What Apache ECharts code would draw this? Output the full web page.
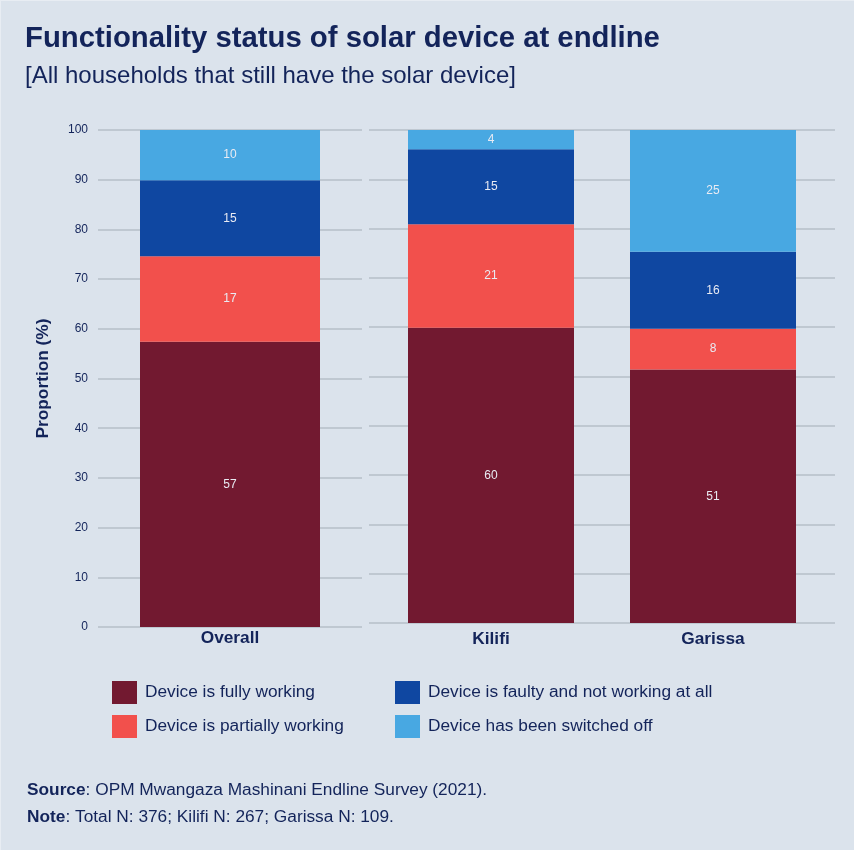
<!DOCTYPE html>
<html>
<head>
<meta charset="utf-8">
<script src="https://cdn.jsdelivr.net/npm/echarts@6/dist/echarts.min.js"></script>
<style>
  html, body { margin: 0; padding: 0; background: #dbe3ec; }
  #chart { width: 854px; height: 850px; }
</style>
</head>
<body>
<div id="chart"></div>
<script>
// Categories per panel
const overallCategories = ['Overall'];
const regionCategories = ['Kilifi', 'Garissa'];

// Share of households (%) per status, order: Overall, Kilifi, Garissa
const fullyWorking = [57.4, 59.9, 51.4];
const partiallyWorking = [17.2, 21.0, 8.3];
const faultyNotWorking = [15.3, 15.2, 15.6];
const switchedOff = [10.1, 3.9, 24.7];

const statusNames = [
  'Device is fully working',
  'Device is partially working',
  'Device is faulty and not working at all',
  'Device has been switched off'
];
const statusValues = [fullyWorking, partiallyWorking, faultyNotWorking, switchedOff];
const statusColors = ['#721930', '#f2504c', '#0f47a1', '#48a8e2'];

const yTicks = { min: 0, max: 100, interval: 10 };

const FONT = '"Liberation Sans", Arial, Helvetica, sans-serif';
const NAVY = '#13245a';
const GRID_LINE = '#b6bfc9';

const chart = echarts.init(document.getElementById('chart'), null, { renderer: 'canvas' });

const labelOpt = {
  show: true,
  position: 'inside',
  color: '#e9ebf3',
  fontSize: 12,
  fontFamily: FONT,
  formatter: p => Math.round(p.value)
};

const series = [];
statusNames.forEach((name, i) => {
  series.push({
    name: name,
    type: 'bar',
    stack: 'overall',
    xAxisIndex: 0,
    yAxisIndex: 0,
    barWidth: 180,
    itemStyle: { color: statusColors[i] },
    label: labelOpt,
    data: [statusValues[i][0]]
  });
  series.push({
    name: name,
    type: 'bar',
    stack: 'region',
    xAxisIndex: 2,
    yAxisIndex: 2,
    barWidth: 166,
    itemStyle: { color: statusColors[i] },
    label: labelOpt,
    data: statusValues[i].slice(1)
  });
});

const catLabel = {
  color: NAVY,
  fontSize: 17.3,
  fontWeight: 'bold',
  fontFamily: FONT
};

const legendBase = {
  orient: 'vertical',
  top: 681,
  padding: 0,
  itemWidth: 25, itemHeight: 23, itemGap: 11,
  icon: 'rect',
  selectedMode: false,
  textStyle: { color: NAVY, fontSize: 17.3, fontFamily: FONT, padding: [0, 0, 0, 3] }
};

const option = {
  backgroundColor: '#dbe3ec',
  animation: false,
  textStyle: { fontFamily: FONT },
  title: [
    {
      text: 'Functionality status of solar device at endline',
      left: 25, top: 24, padding: 0,
      textStyle: { color: NAVY, fontSize: 29.3, fontWeight: 'bold', fontFamily: FONT }
    },
    {
      text: '[All households that still have the solar device]',
      left: 25, top: 64, padding: 0,
      textStyle: { color: NAVY, fontSize: 24, fontWeight: 'normal', fontFamily: FONT }
    }
  ],
  legend: [
    Object.assign({ data: [statusNames[0], statusNames[1]], left: 112 }, legendBase),
    Object.assign({ data: [statusNames[2], statusNames[3]], left: 395 }, legendBase)
  ],
  grid: [
    { left: 98, top: 130, width: 264, height: 497 },
    { left: 369, top: 130, width: 466, height: 493 },
    { left: 380, top: 130, width: 444, height: 493 }
  ],
  xAxis: [
    {
      type: 'category', gridIndex: 0, data: overallCategories,
      axisLine: { show: false }, axisTick: { show: false },
      axisLabel: Object.assign({ margin: 3 }, catLabel)
    },
    {
      type: 'category', gridIndex: 1, data: regionCategories, show: false
    },
    {
      type: 'category', gridIndex: 2, data: regionCategories,
      axisLine: { show: false }, axisTick: { show: false },
      axisLabel: Object.assign({ margin: 8 }, catLabel)
    }
  ],
  yAxis: [
    {
      type: 'value', gridIndex: 0,
      min: yTicks.min, max: yTicks.max, interval: yTicks.interval,
      name: 'Proportion (%)',
      nameLocation: 'middle', nameRotate: 90, nameGap: 46,
      nameTextStyle: { color: NAVY, fontSize: 17.3, fontWeight: 'bold', fontFamily: FONT },
      axisLine: { show: false }, axisTick: { show: false },
      axisLabel: { color: NAVY, fontSize: 12, margin: 10, fontFamily: FONT },
      splitLine: { show: true, lineStyle: { color: GRID_LINE, width: 1.5 } }
    },
    {
      type: 'value', gridIndex: 1,
      min: yTicks.min, max: yTicks.max, interval: yTicks.interval,
      axisLine: { show: false }, axisTick: { show: false },
      axisLabel: { show: false },
      splitLine: { show: true, lineStyle: { color: GRID_LINE, width: 1.5 } }
    },
    {
      type: 'value', gridIndex: 2,
      min: yTicks.min, max: yTicks.max, interval: yTicks.interval,
      axisLine: { show: false }, axisTick: { show: false },
      axisLabel: { show: false },
      splitLine: { show: false }
    }
  ],
  graphic: [
    // thin light frame along the top and left edges
    { type: 'line', shape: { x1: 0, y1: 0.5, x2: 854, y2: 0.5 }, style: { stroke: '#e8edf3', lineWidth: 1 } },
    { type: 'line', shape: { x1: 0.5, y1: 0, x2: 0.5, y2: 850 }, style: { stroke: '#e8edf3', lineWidth: 1 } },
    {
      type: 'text', left: 27, top: 782,
      style: {
        text: '{b|Source}: OPM Mwangaza Mashinani Endline Survey (2021).',
        fill: NAVY, fontSize: 17.3, fontFamily: FONT,
        rich: { b: { fontWeight: 'bold', fontSize: 17.3, fill: NAVY, fontFamily: FONT } }
      }
    },
    {
      type: 'text', left: 27, top: 809,
      style: {
        text: '{b|Note}: Total N: 376; Kilifi N: 267; Garissa N: 109.',
        fill: NAVY, fontSize: 17.3, fontFamily: FONT,
        rich: { b: { fontWeight: 'bold', fontSize: 17.3, fill: NAVY, fontFamily: FONT } }
      }
    }
  ],
  series: series
};

chart.setOption(option);
</script>
</body>
</html>
